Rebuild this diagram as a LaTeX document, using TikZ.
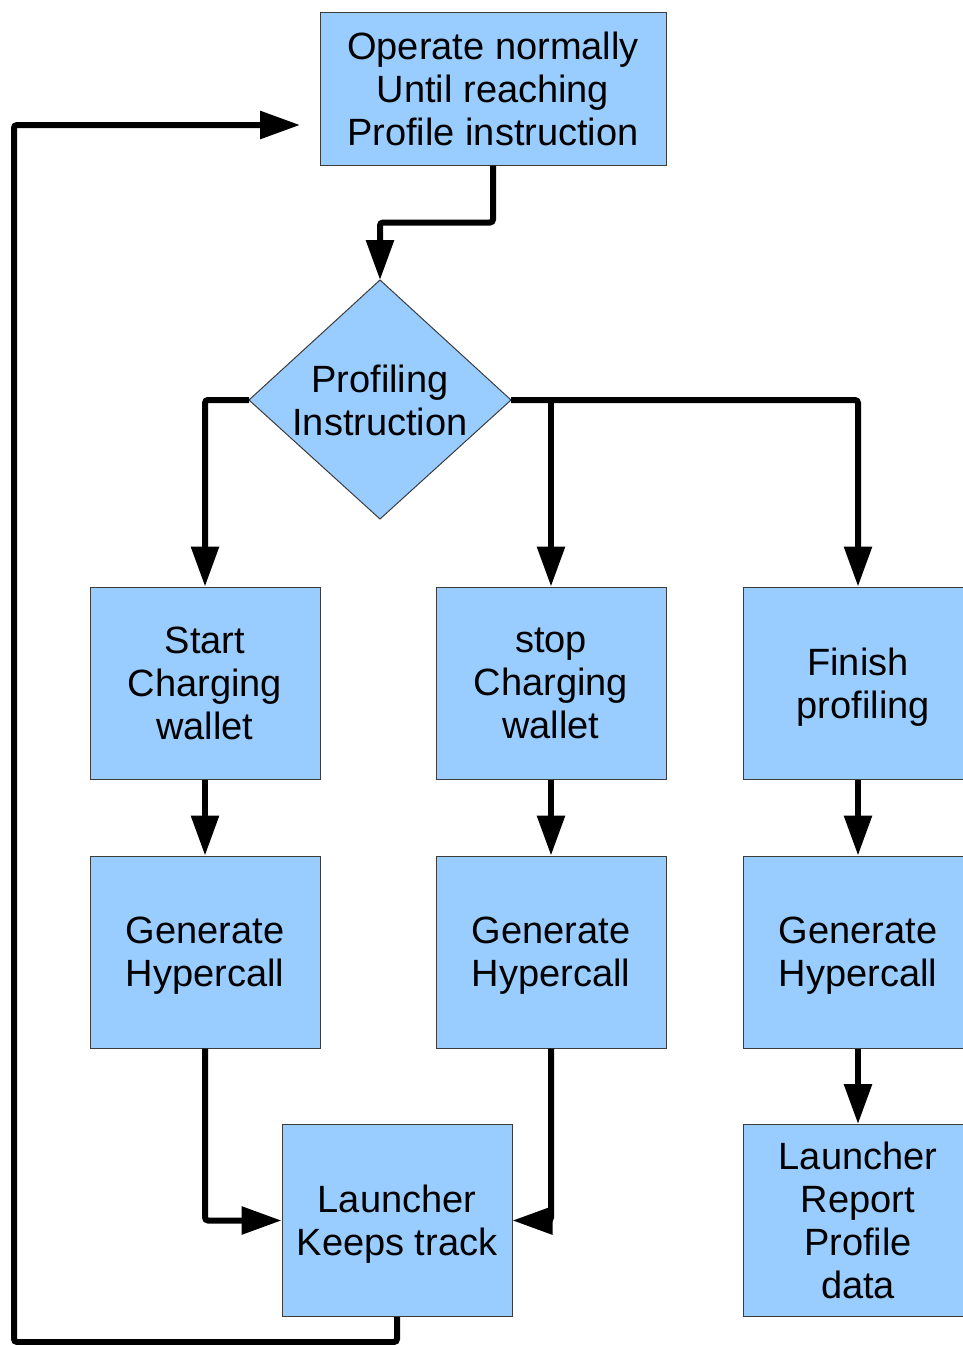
\documentclass[tikz,border=0pt]{standalone}
\usepackage{fontspec}
\setmainfont{Liberation Sans}
\usetikzlibrary{arrows.meta}
\definecolor{boxfill}{HTML}{99CCFF}
\definecolor{boxline}{HTML}{3C3C3C}
\begin{document}
\begin{tikzpicture}[x=1pt,y=-1pt,
  every node/.style={font=\fontsize{38}{43}\selectfont, align=center},
  box/.style={draw=boxline, line width=1pt, fill=boxfill,
    minimum width=230pt, minimum height=192pt, inner sep=0pt},
  lowtext/.style={yshift=-4pt},
  flow/.style={line width=6pt, rounded corners=3pt,
    -{Triangle[length=40pt,width=27pt]}},
]
\useasboundingbox (0,0) rectangle (963,1345);
\begin{scope}
\clip (0,0) rectangle (963,1345);

% top process box
\node[box, minimum width=346pt, minimum height=153pt] (top) at (493,88.5)
  {Operate normally\\Until reaching\\Profile instruction};

% decision diamond
\coordinate (dtop) at (380,280);
\coordinate (dright) at (511,400);
\coordinate (dbottom) at (380,519);
\coordinate (dleft) at (249,400);
\draw[draw=boxline, line width=1pt, fill=boxfill]
  (dtop) -- (dright) -- (dbottom) -- (dleft) -- cycle;
\node (dia) at (380,400) {Profiling\\Instruction};

% first row
\node[box] (b1) at (205,683) {Start\\Charging\\wallet};
\node[box] (b2) at (551,683) {stop\\Charging\\wallet};
\node[box] (b3) at (858,683) {};
\node[lowtext] (b3t) at (b3.center) {Finish\\\hspace*{0.28em}profiling};

% second row
\node[box] (g1) at (205,952) {};
\node[lowtext] (g1t) at (g1.center) {Generate\\Hypercall};
\node[box] (g2) at (551,952) {};
\node[lowtext] (g2t) at (g2.center) {Generate\\Hypercall};
\node[box] (g3) at (858,952) {};
\node[lowtext] (g3t) at (g3.center) {Generate\\Hypercall};

% third row
\node[box] (l1) at (397,1220.5) {};
\node[lowtext] (l1t) at (l1.center) {Launcher\\Keeps track};
\node[box] (l2) at (858,1220.5) {Launcher\\Report\\Profile\\data};

% connectors
\draw[flow] (top.south) -- ++(0,57) -| (dtop);
\draw[flow] (dleft) -| (b1.north);
\draw[flow] (dright) -| (b3.north);
\draw[flow] (b2.north |- dright) -- (b2.north);

\draw[flow] (b1.south) -- (g1.north);
\draw[flow] (b2.south) -- (g2.north);
\draw[flow] (b3.south) -- (g3.north);

\draw[flow] (g1.south) |- (l1.west);
\draw[flow] (g2.south) |- (l1.east);
\draw[flow] (g3.south) -- (l2.north);

\coordinate (loopcorner) at (14,1342);
\coordinate (loopin) at (300,125);
\draw[flow] (l1.south) |- (loopcorner) |- (loopin);
\end{scope}
\end{tikzpicture}
\end{document}
